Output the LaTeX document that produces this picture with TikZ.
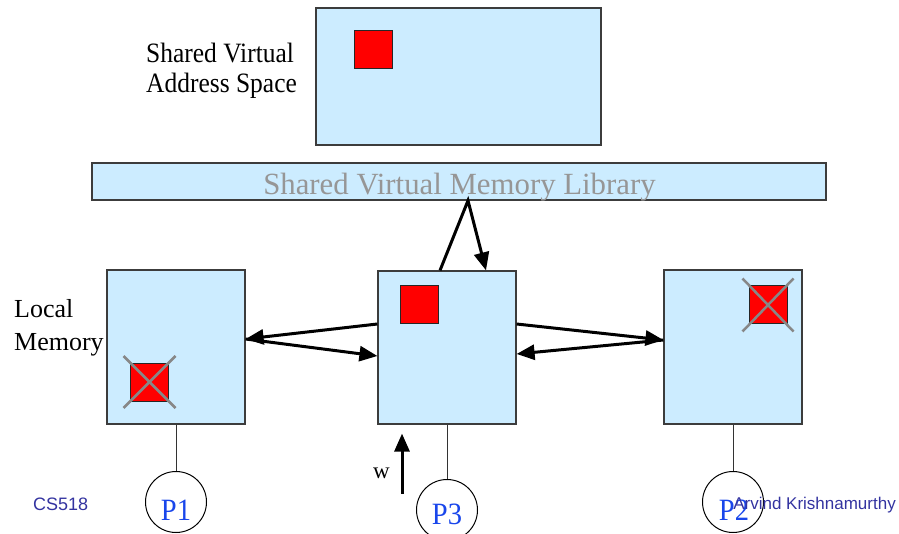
\documentclass[tikz,border=0pt]{standalone}
\usepackage{fontspec}
\setmainfont{Liberation Serif}
\newfontfamily\arialfont{Liberation Sans}
\usetikzlibrary{arrows.meta,calc}
\definecolor{memblue}{RGB}{204,236,255}
\definecolor{boxline}{RGB}{60,60,60}
\definecolor{libgray}{RGB}{150,150,150}
\definecolor{xgray}{RGB}{135,135,135}
\definecolor{pblue}{RGB}{25,70,235}
\definecolor{footblue}{RGB}{51,51,160}
\tikzset{
  membox/.style={draw=boxline, fill=memblue, line width=1.2pt, inner sep=0pt, rectangle},
  page/.style={draw=black!85, fill=red, line width=1pt, minimum size=38pt, inner sep=0pt, rectangle},
  xline/.style={draw=xgray, line width=2.5pt},
  bigarrow/.style={line width=3pt, -{Triangle[length=18pt,width=15pt]}, line join=miter},
  proc/.style={draw=black, line width=1pt, circle, minimum size=61pt, inner sep=0pt},
  link/.style={draw=black!80, line width=0.9pt},
  ptext/.style={text=pblue, font=\fontsize{31}{31}\selectfont, anchor=base, inner sep=0pt},
  lbl/.style={font=\fontsize{26}{30}\selectfont, anchor=base west, inner sep=0pt},
  foot/.style={text=footblue, font=\arialfont\fontsize{17}{17}\selectfont, inner sep=0pt}
}
\begin{document}
\begin{tikzpicture}[x=1pt,y=-1pt]
\useasboundingbox (0,0) rectangle (899,534);
% shared virtual address space
\node[membox, minimum width=285pt, minimum height=137pt] (vas) at (458.5,76.5) {};
\node[page] (pg0) at (373.5,50) {};
\node[lbl, font=\fontsize{28}{30}\selectfont] (vasl1) at (146,63) {\scalebox{0.91}[1]{Shared Virtual}};
\node[lbl, font=\fontsize{28}{30}\selectfont] (vasl2) at (146,93) {\scalebox{0.91}[1]{Address Space}};
% library bar
\node[membox, minimum width=734pt, minimum height=37pt] (lib) at (459,181.5) {};
\node[anchor=base, inner sep=0pt, text=libgray, font=\fontsize{30.8}{30}\selectfont] (libt) at (459.5,195) {Shared Virtual Memory Library};
% local memories
\node[membox, minimum width=138pt, minimum height=154pt] (lbox) at (176,347) {};
\node[membox, minimum width=138pt, minimum height=153pt] (mbox) at (447,347.5) {};
\node[membox, minimum width=138pt, minimum height=154pt] (rbox) at (733,347) {};
\node[page] (pgl) at (149.5,382) {};
\node[page] (pgm) at (419.5,304.5) {};
\node[page] (pgr) at (768,305) {};
\draw[xline] ($(pgl.center)+(-26,-26)$) -- ($(pgl.center)+(26,26)$);
\draw[xline] ($(pgl.center)+(26,-26)$) -- ($(pgl.center)+(-26,26)$);
\draw[xline] ($(pgr.center)+(-25.5,-26.5)$) -- ($(pgr.center)+(25.5,26.5)$);
\draw[xline] ($(pgr.center)+(25.5,-26.5)$) -- ($(pgr.center)+(-25.5,26.5)$);
\node[lbl] (lm1) at (14,318) {Local};
\node[lbl] (lm2) at (14,350) {Memory};
% arrows
\draw[bigarrow] ($(mbox.north)+(-7,0)$) -- ($(lib.south)+(9,0)$) -- ($(mbox.north)+(39,0)$);
\draw[bigarrow] ($(mbox.west)+(0,-23.5)$) -- ($(lbox.east)+(0,-8)$);
\draw[bigarrow] ($(lbox.east)+(0,-8)$) -- ($(mbox.west)+(0,8.5)$);
\draw[bigarrow] ($(mbox.east)+(0,-23.5)$) -- ($(rbox.west)+(0,-7)$);
\draw[bigarrow] ($(rbox.west)+(0,-7)$) -- ($(mbox.east)+(0,6.5)$);
% processors
\node[proc] (p1) at (176,502) {};
\node[proc] (p3) at (447,510) {};
\node[proc] (p2) at (733,502) {};
\draw[link] (lbox.south) -- (p1.north);
\draw[link] (mbox.south) -- (p3.north);
\draw[link] (rbox.south) -- (p2.north);
\node[ptext] (p1t) at (176,520) {\scalebox{0.92}[1]{P1}};
\node[ptext] (p3t) at (447,524) {\scalebox{0.92}[1]{P3}};
\node[ptext] (p2t) at (734,520) {\scalebox{0.92}[1]{P2}};
% write arrow
\coordinate (wstart) at ($(mbox.south)+(-45,69)$);
\draw[bigarrow] (wstart) -- ($(mbox.south)+(-45,9)$);
\node[anchor=base, inner sep=0pt, font=\fontsize{23}{23}\selectfont] (wl) at (381.5,478) {w};
% footer
\node[foot, anchor=base west, font=\arialfont\fontsize{18}{18}\selectfont] (cs) at (33,510) {CS518};
\node[foot, anchor=base east] (au) at (896,509) {Arvind Krishnamurthy};
\end{tikzpicture}
\end{document}
